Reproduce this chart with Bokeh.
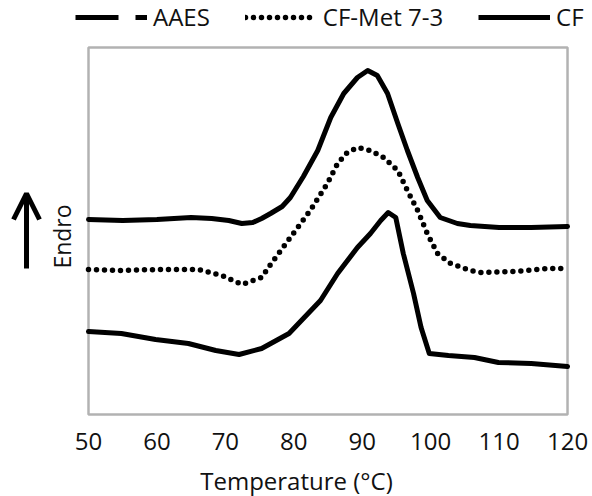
from bokeh.plotting import figure
from bokeh.models import (Range1d, FixedTicker, Legend, LegendItem, Label, Arrow, OpenHead,
                          BoxAnnotation)
from bokeh.embed import file_html
from bokeh.resources import INLINE

# Temperature (°C) and heat-flow signal (arbitrary units, endo up)
t_cf = [50, 55, 60, 65, 68, 70.5, 72.4, 74, 75.3, 76.6, 78.3, 79.5, 81.4, 83.5, 85.4, 87.3,
        89.3, 90.8, 92.2, 93.7, 95.2, 96.6, 98.1, 99.5, 101.4, 103.9, 105.8, 110, 114.7, 120]
y_cf = [19.5, 19.4, 19.5, 19.7, 19.6, 19.4, 19.1, 19.2, 19.6, 20.1, 20.8, 21.7, 23.8, 26.4, 29.7, 32.1,
        33.7, 34.4, 33.9, 32.1, 29.1, 26.4, 23.7, 21.4, 19.7, 19.1, 18.9, 18.7, 18.7, 18.8]

t_met = [50, 54.8, 60, 66.1, 69.5, 72.4, 75.3, 76.6, 79.5, 82.4, 84.9, 86.4, 87.8, 89.3, 91.2,
         93.1, 95.2, 96.6, 98.1, 99.5, 101.0, 102.9, 105.8, 107.4, 112.2, 117.2, 120]
y_met = [14.5, 14.4, 14.5, 14.5, 13.9, 13.0, 13.7, 15.0, 17.7, 20.4, 23.1, 25.1, 26.2, 26.7, 26.4,
         25.7, 24.4, 22.4, 20.4, 18.1, 16.1, 15.1, 14.4, 14.2, 14.3, 14.6, 14.6]

t_aaes = [50, 54.8, 59.8, 64.6, 68.6, 72, 75.3, 79.3, 83.9, 86.4, 89.3, 91.2, 92.7, 93.8, 94.9,
          96.0, 97.5, 98.6, 99.8, 102.6, 106.4, 109.9, 114.7, 120]
y_aaes = [8.3, 8.1, 7.5, 7.1, 6.4, 6.0, 6.6, 8.1, 11.4, 14.1, 16.7, 18.1, 19.4, 20.2, 19.7,
          16.1, 12.1, 8.7, 6.1, 5.9, 5.7, 5.2, 5.1, 4.8]

x_ticks = [50, 60, 70, 80, 90, 100, 110, 120]
series_names = ["AAES", "CF-Met 7-3", "CF"]
y_box = (0, 36.7)   # plotted signal window (axis box)

FONT = "Open Sans"
TXT = "#111111"
NAN = float("nan")

# the frame spans the whole canvas so that the arrow, legend and box can be drawn freely
p = figure(frame_width=592, frame_height=417, output_backend="svg", toolbar_location=None,
           min_border_left=0, min_border_right=0, min_border_top=0, min_border_bottom=79,
           x_range=Range1d(37.14, 123.65), y_range=Range1d(-0.3, 41.4))
p.grid.visible = False
p.yaxis.visible = False
p.outline_line_color = None
p.background_fill_color = "white"
p.border_fill_color = "white"

ax = p.xaxis[0]
ax.ticker = FixedTicker(ticks=x_ticks)
ax.axis_line_color = None
ax.major_tick_line_color = None
ax.minor_tick_line_color = None
ax.major_label_text_font = FONT
ax.major_label_text_font_size = "24px"
ax.major_label_text_color = TXT
ax.major_label_standoff = 9
ax.axis_label = "Temperature (°C)"
ax.axis_label_text_font = FONT
ax.axis_label_text_font_size = "24px"
ax.axis_label_text_font_style = "normal"
ax.axis_label_text_color = TXT
ax.axis_label_standoff = 11

p.add_layout(BoxAnnotation(left=x_ticks[0], right=x_ticks[-1], bottom=y_box[0], top=y_box[1],
                           fill_alpha=0, line_color="black", line_width=2.5))

r_aaes = p.line(t_aaes, y_aaes, line_color="black", line_width=5, line_join="round", line_cap="round")
r_met = p.line(t_met, y_met, line_color="black", line_width=5.5, line_dash="0 8", line_cap="round")
r_cf = p.line(t_cf, y_cf, line_color="black", line_width=5, line_join="round", line_cap="round")

# legend-only proxies (no visible data)
g_aaes = p.line([NAN], [NAN], line_color="black", line_width=5, line_dash="43 17")
g_met = p.line([NAN], [NAN], line_color="black", line_width=5.5, line_dash="0 8", line_cap="round")
g_cf = p.line([NAN], [NAN], line_color="black", line_width=5)

legend = Legend(items=[LegendItem(label=series_names[0], renderers=[g_aaes], index=0),
                       LegendItem(label=series_names[1], renderers=[g_met], index=0),
                       LegendItem(label=series_names[2], renderers=[g_cf], index=0)],
                orientation="horizontal", location=(75, 384),
                glyph_width=72, label_standoff=6, spacing=35, padding=0, margin=0,
                border_line_color=None, background_fill_alpha=0,
                label_text_font=FONT, label_text_font_size="24px", label_text_color=TXT)
p.add_layout(legend, "center")

p.add_layout(Label(x=46.2, y=17.8, text="Endro", angle=1.5708,
                   text_align="center", text_baseline="middle", text_font=FONT,
                   text_font_size="23px", text_color=TXT))
p.add_layout(Arrow(x_start=40.94, y_start=14.6, x_end=40.94, y_end=22.1,
                   line_width=5, line_color="black",
                   end=OpenHead(size=26, line_width=5, line_color="black")))

open("out.html", "w").write(file_html(p, INLINE))
